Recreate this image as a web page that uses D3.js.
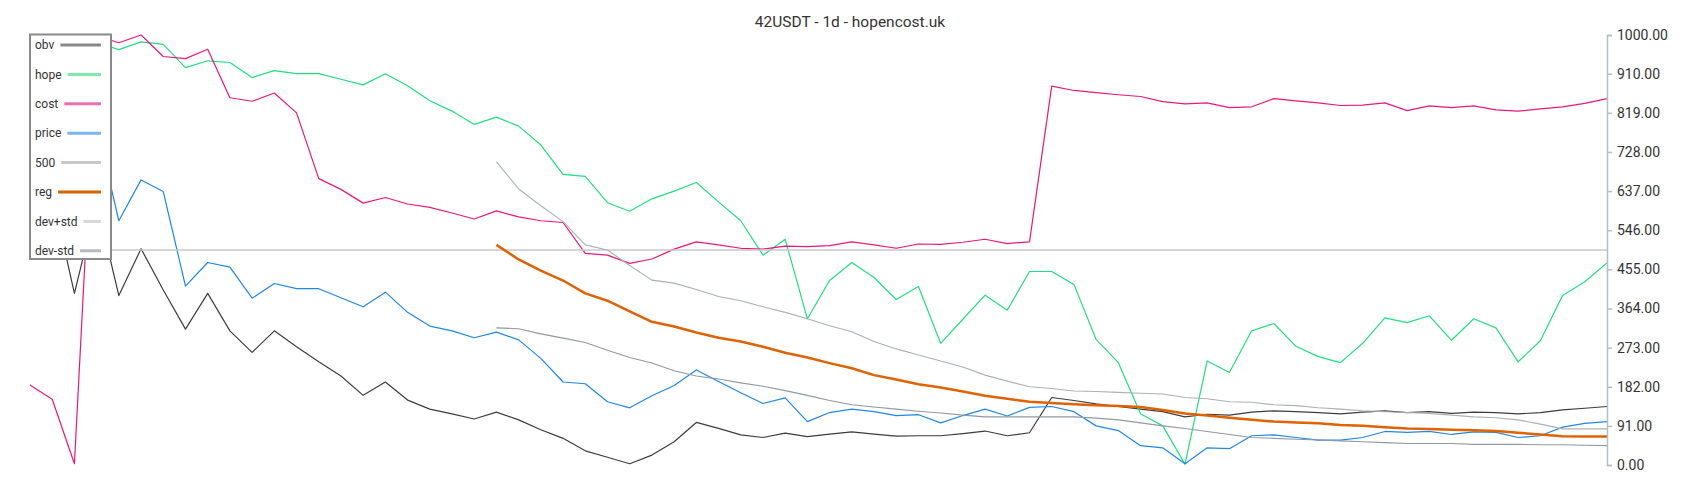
<!DOCTYPE html>
<html>
<head>
<meta charset="utf-8">
<script src="https://cdn.jsdelivr.net/npm/d3@7/dist/d3.min.js"></script>
<style>
  html, body { margin: 0; padding: 0; background: #fff; }
  svg { display: block; font-family: Roboto, "Noto Sans", sans-serif; }
</style>
</head>
<body>
<svg id="chart" width="1700" height="500"></svg>
<script>
// ---- data ----
const title = "42USDT - 1d - hopencost.uk";
const days = d3.range(72); // category index (one per day)

const obv = [560,630,399,612,394,503,407,316,399,312,262,312,275,240,207,162,193,151,130,119,107,123,105,82,62,33,18,3,23,54,99,85,70,64,74,66,72,77,72,67,68,68,73,79,68,75,157,150,142,136,130,124,112,118,116,123,126,124,122,119,123,126,122,124,120,123,122,119,122,128,132,136];
const hope = [930,960,990,983,966,984,978,924,940,936,901,917,910,910,897,884,910,882,847,823,792,809,788,744,676,671,610,590,619,637,657,612,568,488,525,340,429,471,436,385,415,283,339,395,360,450,450,420,292,238,119,91,2,242,215,312,329,276,252,238,283,342,331,347,290,340,319,240,289,394,426,470];
const cost = [186,153,3,998,982,1000,950,945,967,854,846,865,819,666,641,609,622,607,599,586,572,591,577,568,564,492,488,469,479,502,519,512,504,502,509,508,510,519,512,504,514,513,518,525,515,519,881,871,866,861,857,845,840,842,831,833,852,847,842,836,837,842,824,835,831,835,826,823,828,833,841,852];
const price = [700,730,760,790,568,663,636,416,471,460,388,422,410,410,389,368,402,355,323,312,296,309,291,248,193,189,147,133,161,185,221,194,168,143,156,101,122,130,124,115,117,98,115,130,114,134,136,124,91,80,45,40,3,40,38,68,70,64,58,58,64,78,76,78,71,77,76,64,68,88,97,101];
const level500 = [500,500,500,500,500,500,500,500,500,500,500,500,500,500,500,500,500,500,500,500,500,500,500,500,500,500,500,500,500,500,500,500,500,500,500,500,500,500,500,500,500,500,500,500,500,500,500,500,500,500,500,500,500,500,500,500,500,500,500,500,500,500,500,500,500,500,500,500,500,500,500,500];
// regression / bands start at day 21
const regStart = 21;
const reg = [512,478,452,429,399,382,357,333,322,308,296,287,275,261,250,237,225,209,199,188,180,171,161,154,147,144,141,139,137,135,128,120,115,110,105,101,99,97,93,91,88,85,84,82,81,79,75,71,67,66,66];
const devPlus = [705,642,603,566,512,500,464,430,423,408,392,382,368,355,340,324,310,287,270,256,242,228,209,195,182,178,172,171,169,167,165,157,154,147,146,140,138,133,130,126,124,122,120,116,112,110,105,95,84,84,84];
const devMinus = [319,317,305,295,285,267,250,237,219,207,200,191,183,173,162,150,140,135,130,125,121,116,112,112,112,112,112,109,105,98,91,85,78,71,64,62,60,58,56,54,52,50,50,50,48,48,48,47,47,46,45];
const yTicks = [0,91,182,273,364,455,546,637,728,819,910,1000];

(function () {
  // ---- series table ----
  const series = [
    { name: "obv",     values: obv,      start: 0,        color: "#3d3d3d", legend: "#8a8a8a", width: 1.2 },
    { name: "hope",    values: hope,     start: 0,        color: "#1fe07c", legend: "#80e8aa", width: 1.2 },
    { name: "cost",    values: cost,     start: 0,        color: "#e8177f", legend: "#ee6fae", width: 1.2 },
    { name: "price",   values: price,    start: 0,        color: "#1e88e5", legend: "#7ab6ec", width: 1.2 },
    { name: "500",     values: level500, start: 0,        color: "#c8c8c8", legend: "#c8c8c8", width: 1.5 },
    { name: "reg",     values: reg,      start: regStart, color: "#e06200", legend: "#d96200", width: 2.5 },
    { name: "dev+std", values: devPlus,  start: regStart, color: "#aab1b8", legend: "#d3d8dc", width: 1.1 },
    { name: "dev-std", values: devMinus, start: regStart, color: "#8e9aa4", legend: "#b3bbc2", width: 1.1 }
  ];

  // ---- layout ----
  const svg = d3.select("#chart");
  const mLeft = 30, mRight = 1607, mTop = 35, mBottom = 465;

  const x = d3.scaleLinear().domain([0, days.length - 1]).range([mLeft, mRight]);
  const y = d3.scaleLinear().domain([0, 1000]).range([mBottom, mTop]);

  // title
  svg.append("text")
    .attr("x", 850).attr("y", 27)
    .attr("text-anchor", "middle")
    .attr("font-size", 15.5)
    .attr("fill", "#333")
    .text(title);

  // lines
  const line = d3.line()
    .x(d => x(d.i))
    .y(d => y(d.v));

  series.forEach(s => {
    const pts = s.values.map((v, k) => ({ i: days[s.start + k], v }));
    svg.append("path")
      .datum(pts)
      .attr("fill", "none")
      .attr("stroke", s.color)
      .attr("stroke-width", s.width)
      .attr("stroke-linejoin", "round")
      .attr("d", line);
  });

  // right axis
  const axis = d3.axisRight(y)
    .tickValues(yTicks)
    .tickFormat(d => d.toFixed(2))
    .tickSize(5)
    .tickPadding(5);
  const ag = svg.append("g")
    .attr("transform", `translate(${mRight},0)`)
    .call(axis);
  ag.select(".domain").attr("stroke", "#b4bec5").attr("stroke-width", 1.5);
  ag.selectAll(".tick line").attr("stroke", "#b4bec5").attr("stroke-width", 1.5);
  ag.selectAll(".tick text")
    .attr("fill", "#333")
    .attr("font-size", 14)
    .attr("font-family", "Roboto, sans-serif");

  // legend
  const lg = svg.append("g");
  const lx0 = 30, ly0 = 34.5, lx1 = 111, ly1 = 259;
  lg.append("rect")
    .attr("x", lx0).attr("y", ly0)
    .attr("width", lx1 - lx0).attr("height", ly1 - ly0)
    .attr("fill", "#fff")
    .attr("stroke", "#8a8a8a")
    .attr("stroke-width", 2);
  const rowStart = 45, rowStep = 29.4;
  series.forEach((s, k) => {
    const cy = rowStart + k * rowStep;
    const t = lg.append("text")
      .attr("x", 35).attr("y", cy)
      .attr("dy", "0.35em")
      .attr("font-size", 12)
      .attr("fill", "#333")
      .text(s.name);
    const tw = t.node().getComputedTextLength();
    lg.append("line")
      .attr("x1", 35 + tw + 6).attr("x2", 101)
      .attr("y1", cy).attr("y2", cy)
      .attr("stroke", s.legend)
      .attr("stroke-width", 3);
  });
})();
</script>
</body>
</html>
